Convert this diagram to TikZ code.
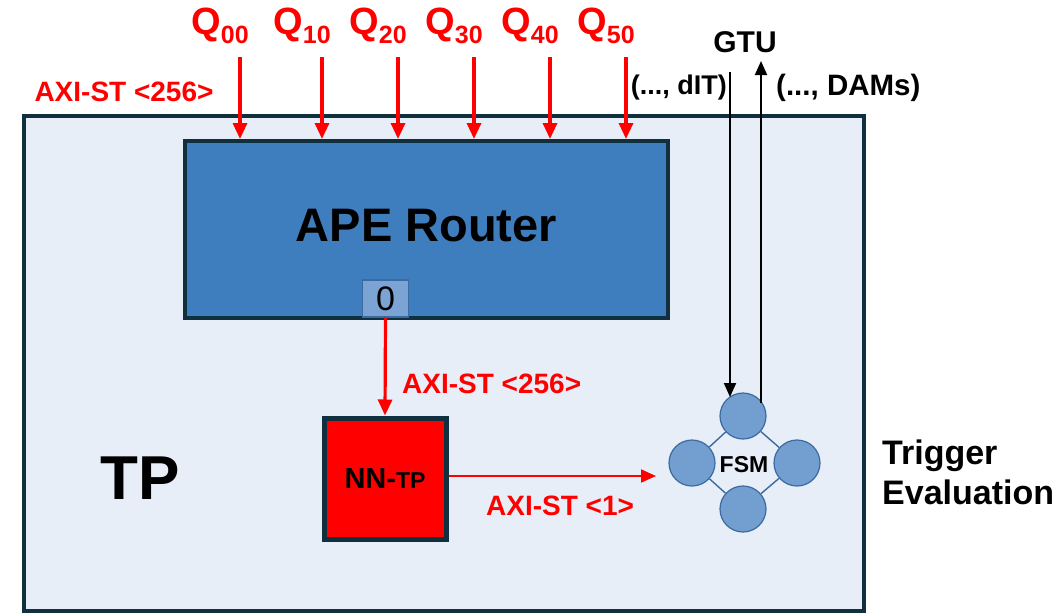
\documentclass[tikz,border=0pt]{standalone}
\usepackage{fontspec}
\setmainfont{Liberation Sans}
\usetikzlibrary{arrows.meta}
\definecolor{tpred}{HTML}{FF0000}
\definecolor{navy}{HTML}{10303F}
\definecolor{tpfill}{HTML}{E8EEF7}
\definecolor{routerblue}{HTML}{3E7EBE}
\definecolor{portblue}{HTML}{7BA3D4}
\definecolor{portedge}{HTML}{3B6AA0}
\definecolor{fsmfill}{HTML}{729FCF}
\definecolor{fsmedge}{HTML}{3B6AA0}
\newcommand{\fs}[1]{\fontsize{#1}{#1}\selectfont}
\newcommand{\qlabel}[1]{Q{\fs{25}\raisebox{-9pt}{#1}}}
\begin{document}
\begin{tikzpicture}[x=1pt,y=-1pt,
  box/.style={draw=navy, line width=4pt, inner sep=0pt, rectangle},
  redtxt/.style={text=tpred, font=\bfseries\fs{28}, inner sep=0pt},
  qtxt/.style={text=tpred, font=\bfseries\fs{38}, inner sep=0pt},
  blacktxt/.style={text=black, font=\bfseries\fs{30}, inner sep=0pt},
  redarrow/.style={draw=tpred, line width=3.2pt, -{Triangle[width=14pt,length=16pt]}},
  thinred/.style={draw=tpred, line width=2pt, -{Triangle[width=13pt,length=15pt]}},
  blackarrow/.style={draw=black, line width=2pt, -{Triangle[width=12pt,length=14pt]}},
  state/.style={circle, fill=fsmfill, draw=fsmedge, line width=1.2pt, minimum size=46pt, inner sep=0pt},
  link/.style={draw=fsmedge, line width=1.4pt}
]
\useasboundingbox (0,0) rectangle (1061,614);
% outer TP box
\node[box, fill=tpfill, minimum width=840pt, minimum height=495pt] (tp) at (444,363.5) {};
\node[text=black, font=\bfseries\fs{62}, inner sep=0pt] (tplabel) at (140,478) {TP};
% router
\node[box, fill=routerblue, minimum width=483pt, minimum height=177pt, font=\bfseries\fs{47}, text depth=9pt] (router) at (426.5,229.5) {APE Router};
\node[draw=portedge, line width=1.2pt, fill=portblue, minimum width=46pt, minimum height=37pt, inner sep=0pt, font=\fs{34}] (port) at (385.5,298.5) {0};
% NN-TP
\node[box, line width=5pt, fill=tpred, minimum width=122pt, minimum height=121pt, font=\bfseries] (nn) at (385,478.5) {{\fs{29}NN-}{\fs{23}TP}};
% Q inputs
\foreach \i/\x in {0/240,1/322,2/398,3/474,4/550,5/626}{
  \node[qtxt] (q\i) at (\x-20,26) {\qlabel{\i0}};
  \coordinate (qs\i) at (\x,57);
  \draw[redarrow] (qs\i) -- (qs\i |- router.north);
}
\node[redtxt] (axitop) at (124,92) {AXI-ST <256>};
% port to NN
\draw[redarrow] (port.south) -- (nn.north);
\node[redtxt, anchor=west] (axi256) at (402,384) {AXI-ST <256>};
% FSM
\node[state] (c1) at (743,416) {};
\node[state] (c2) at (692,463) {};
\node[state] (c3) at (797,463) {};
\node[state] (c4) at (743,509) {};
\node[text=black, font=\bfseries\fs{23}, inner sep=0pt] (fsm) at (744,465) {FSM};
\draw[link] (c1) -- (c2);
\draw[link] (c1) -- (c3);
\draw[link] (c4) -- (c2);
\draw[link] (c4) -- (c3);
% NN to FSM
\coordinate (fsmin) at (656,476);
\draw[thinred] (nn.east |- fsmin) -- (fsmin);
\node[redtxt, anchor=west] (axi1) at (486,506) {AXI-ST <1>};
% GTU
\node[blacktxt] (gtu) at (745,42) {GTU};
\coordinate (dtop) at (730,72);
\coordinate (dend) at (730,397);
\coordinate (ustart) at (761,403);
\coordinate (utop) at (761,61);
\draw[blackarrow] (dtop) -- (dend);
\draw[blackarrow] (ustart) -- (utop);
\node[blacktxt, font=\bfseries\fs{27}, anchor=east] (dit) at (727,88) {(..., dIT)};
\node[blacktxt, font=\bfseries\fs{29.5}, anchor=west] (dams) at (776,88) {(..., DAMs)};
% Trigger Evaluation
\node[text=black, font=\bfseries\fs{34}, align=left, anchor=west, inner sep=0pt] (trig) at (882,472) {Trigger\\[6pt]Evaluation};
\end{tikzpicture}
\end{document}
